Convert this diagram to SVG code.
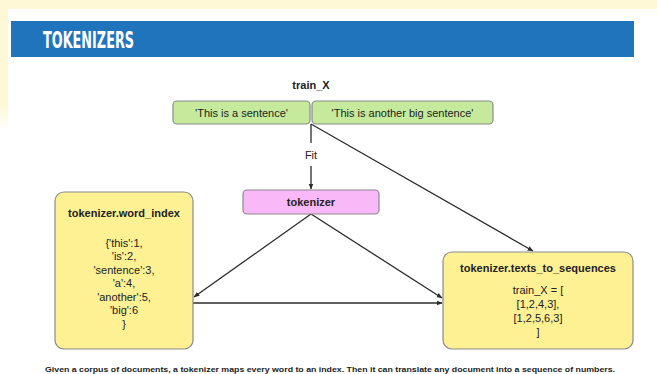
<svg xmlns="http://www.w3.org/2000/svg" width="657" height="374" viewBox="0 0 657 374">
  <defs>
    <linearGradient id="stripFade" x1="0" y1="0" x2="0" y2="1">
      <stop offset="0" stop-color="#fff8d6"/>
      <stop offset="0.8" stop-color="#fff8d6"/>
      <stop offset="1" stop-color="#ffffff"/>
    </linearGradient>
    <marker id="arrow" viewBox="0 0 10 10" refX="9" refY="5" markerWidth="6" markerHeight="6" orient="auto" markerUnits="userSpaceOnUse">
      <path d="M0,1 L10,5 L0,9 Z" fill="#2b2b2b"/>
    </marker>
    <style>
      .box { stroke: #8a8a8a; stroke-width: 1.2; }
      .green { fill: #c6ea9c; }
      .pink { fill: #f9b9f9; }
      .yellow { fill: #fdf193; }
      .t { font-family: "Liberation Sans", Arial, sans-serif; fill: #222; text-anchor: middle; }
      .b { font-weight: bold; }
      .lbl { font-size: 11px; }
      .body { font-size: 11px; }
      .edge { stroke: #2b2b2b; stroke-width: 1.3; fill: none; }
    </style>
  </defs>

  <!-- page backdrop -->
  <rect x="0" y="0" width="657" height="374" fill="#ffffff"/>
  <rect x="0" y="0" width="657" height="9" fill="#fff8d6"/>
  <rect x="0" y="0" width="8" height="130" fill="url(#stripFade)"/>

  <!-- header bar -->
  <g id="header">
    <rect x="11" y="21" width="623" height="36" fill="#1f74bc"/>
    <text x="43" y="48" font-family="'DejaVu Sans Condensed', 'DejaVu Sans', sans-serif" font-weight="bold" font-size="23" fill="#ffffff" textLength="91" lengthAdjust="spacingAndGlyphs">TOKENIZERS</text>
  </g>

  <!-- connectors -->
  <g id="connectors">
    <line class="edge" x1="311" y1="124" x2="311" y2="143"/>
    <line class="edge" x1="311" y1="166" x2="311" y2="189" marker-end="url(#arrow)"/>
    <text class="t lbl" x="311" y="159">Fit</text>
    <line class="edge" x1="311" y1="124" x2="533" y2="251" marker-end="url(#arrow)"/>
    <line class="edge" x1="311" y1="214" x2="194" y2="297" marker-end="url(#arrow)"/>
    <line class="edge" x1="311" y1="214" x2="442" y2="298" marker-end="url(#arrow)"/>
    <line class="edge" x1="193" y1="303" x2="442" y2="303" marker-end="url(#arrow)"/>
  </g>

  <!-- training data -->
  <g id="train_X">
    <text class="t b lbl" x="311" y="89">train_X</text>
    <rect class="box green" x="173" y="101" width="137" height="23" rx="4"/>
    <text class="t body" x="241.5" y="116.5">'This is a sentence'</text>
    <rect class="box green" x="312" y="101" width="181" height="23" rx="4"/>
    <text class="t body" x="402.5" y="116.5">'This is another big sentence'</text>
  </g>

  <!-- tokenizer -->
  <g id="tokenizer">
    <rect class="box pink" x="243" y="190" width="136" height="24" rx="4"/>
    <text class="t b lbl" x="311" y="206">tokenizer</text>
  </g>

  <!-- word index -->
  <g id="word_index">
    <rect class="box yellow" x="55" y="192" width="138" height="157" rx="9"/>
    <text class="t b lbl" x="124" y="217">tokenizer.word_index</text>
    <text class="t body" x="124" y="246.5">{'this':1,</text>
    <text class="t body" x="124" y="260">'is':2,</text>
    <text class="t body" x="124" y="273.5">'sentence':3,</text>
    <text class="t body" x="124" y="287">'a':4,</text>
    <text class="t body" x="124" y="300.5">'another':5,</text>
    <text class="t body" x="124" y="314">'big':6</text>
    <text class="t body" x="124" y="327.5">}</text>
  </g>

  <!-- sequences -->
  <g id="texts_to_sequences">
    <rect class="box yellow" x="443" y="252" width="190" height="97" rx="9"/>
    <text class="t b lbl" x="538" y="272">tokenizer.texts_to_sequences</text>
    <text class="t body" x="538" y="294">train_X = [</text>
    <text class="t body" x="538" y="308">[1,2,4,3],</text>
    <text class="t body" x="538" y="322">[1,2,5,6,3]</text>
    <text class="t body" x="538" y="336">]</text>
  </g>

  <!-- caption -->
  <text class="t b" x="330" y="372" font-size="7.5" textLength="570" lengthAdjust="spacingAndGlyphs">Given a corpus of documents, a tokenizer maps every word to an index. Then it can translate any document into a sequence of numbers.</text>
</svg>
